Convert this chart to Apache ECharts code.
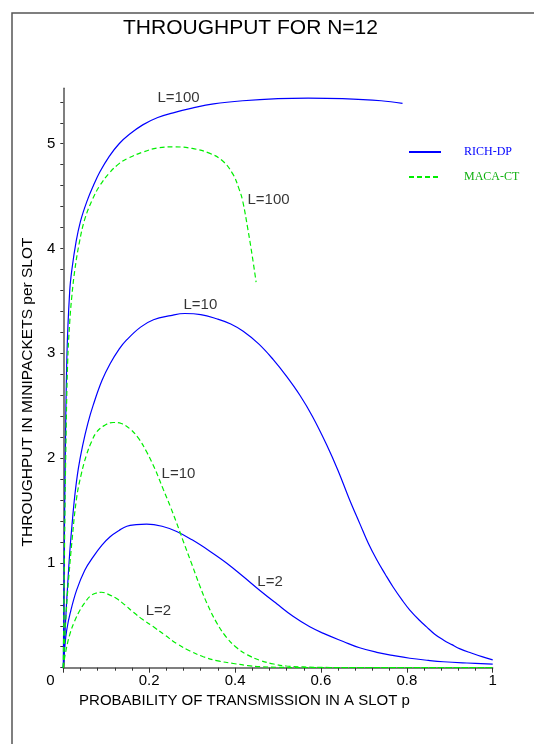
<!DOCTYPE html>
<html>
<head>
<meta charset="utf-8">
<script src="https://cdn.jsdelivr.net/npm/echarts@6/dist/echarts.min.js"></script>
<style>
  html, body { margin: 0; padding: 0; background: #fff; }
  #chart { width: 534px; height: 744px; }
</style>
</head>
<body>
<div id="chart"></div>
<script>
// curves, [p, throughput]
const richL100 = [[0,0],[0.002,1.0],[0.004,1.8],[0.0086,3.0],[0.015,3.6],[0.02,3.8],[0.03,4.07],[0.04,4.26],[0.055,4.45],[0.07,4.6],[0.085,4.73],[0.107,4.88],[0.13,5.0],[0.154,5.09],[0.185,5.18],[0.22,5.25],[0.26,5.3],[0.30,5.34],[0.35,5.38],[0.418,5.41],[0.5,5.43],[0.57,5.435],[0.65,5.43],[0.74,5.41],[0.79,5.385]];
const macaL100 = [[0,0],[0.003,1.2],[0.006,2.1],[0.01,2.9],[0.015,3.3],[0.02,3.55],[0.027,3.8],[0.037,4.05],[0.05,4.28],[0.068,4.47],[0.085,4.6],[0.107,4.72],[0.13,4.81],[0.15,4.86],[0.185,4.92],[0.22,4.96],[0.259,4.97],[0.30,4.955],[0.34,4.91],[0.37,4.84],[0.395,4.71],[0.41,4.56],[0.418,4.45],[0.43,4.18],[0.44,3.93],[0.449,3.68]];
const richL10 = [[0,0],[0.005,0.42],[0.01,0.78],[0.015,1.1],[0.02,1.35],[0.027,1.65],[0.035,1.9],[0.045,2.12],[0.057,2.33],[0.07,2.51],[0.09,2.74],[0.109,2.9],[0.13,3.04],[0.148,3.13],[0.18,3.25],[0.21,3.32],[0.25,3.36],[0.283,3.38],[0.32,3.37],[0.357,3.33],[0.39,3.28],[0.419,3.21],[0.455,3.09],[0.489,2.94],[0.52,2.78],[0.551,2.60],[0.58,2.40],[0.613,2.13],[0.64,1.88],[0.665,1.62],[0.691,1.37],[0.71,1.19],[0.73,1.03],[0.75,0.89],[0.768,0.77],[0.79,0.64],[0.807,0.55],[0.83,0.45],[0.846,0.39],[0.865,0.32],[0.885,0.265],[0.905,0.22],[0.924,0.18],[0.95,0.14],[0.975,0.105],[1.0,0.075]];
const macaL10 = [[0,0],[0.005,0.4],[0.01,0.72],[0.02,1.2],[0.031,1.62],[0.042,1.85],[0.054,2.03],[0.066,2.16],[0.078,2.25],[0.095,2.31],[0.116,2.34],[0.135,2.33],[0.155,2.28],[0.175,2.19],[0.194,2.06],[0.213,1.9],[0.233,1.70],[0.25,1.53],[0.264,1.38],[0.28,1.20],[0.30,0.98],[0.318,0.78],[0.335,0.61],[0.357,0.43],[0.38,0.29],[0.404,0.19],[0.43,0.12],[0.458,0.07],[0.49,0.035],[0.52,0.016],[0.6,0.003],[0.7,0],[1,0]];
const richL2 = [[0,0],[0.004,0.22],[0.008,0.36],[0.016,0.52],[0.031,0.74],[0.05,0.93],[0.07,1.06],[0.09,1.17],[0.109,1.25],[0.13,1.31],[0.148,1.35],[0.17,1.365],[0.194,1.37],[0.23,1.35],[0.264,1.30],[0.30,1.22],[0.342,1.11],[0.38,1.0],[0.419,0.87],[0.46,0.73],[0.497,0.61],[0.535,0.49],[0.574,0.39],[0.61,0.32],[0.652,0.25],[0.69,0.19],[0.73,0.147],[0.77,0.115],[0.807,0.09],[0.85,0.07],[0.885,0.057],[0.94,0.045],[1,0.035]];
const macaL2 = [[0,0],[0.005,0.14],[0.016,0.33],[0.027,0.45],[0.039,0.55],[0.05,0.62],[0.062,0.68],[0.075,0.71],[0.089,0.72],[0.105,0.70],[0.124,0.66],[0.143,0.60],[0.163,0.53],[0.185,0.46],[0.21,0.39],[0.237,0.31],[0.264,0.23],[0.295,0.16],[0.326,0.105],[0.36,0.065],[0.396,0.04],[0.43,0.02],[0.458,0.01],[0.5,0.004],[0.55,0],[1,0]];

// curve annotations: [p, y, text]
const curveNotes = [[0.2205,5.436,'L=100'],[0.430,4.455,'L=100'],[0.281,3.461,'L=10'],[0.230,1.848,'L=10'],[0.453,0.818,'L=2'],[0.193,0.541,'L=2']];

const yLabels = [1,2,3,4,5];
const yTicks = [0,0.2,0.4,0.6,0.8,1,1.2,1.4,1.6,1.8,2,2.2,2.4,2.6,2.8,3,3.2,3.4,3.6,3.8,4,4.2,4.4,4.6,4.8,5,5.2,5.4];

const BLUE = '#0000ff';
const GREEN = '#00ee00';

const chart = echarts.init(document.getElementById('chart'));

function curve(name, data, color, dashed) {
  return {
    name: name,
    type: 'line',
    data: data,
    showSymbol: false,
    symbol: 'none',
    smooth: 0.4,
    lineStyle: { color: color, width: 1.2, type: dashed ? [5, 3] : 'solid' },
    itemStyle: { color: color },
    z: 3
  };
}

chart.setOption({
  animation: false,
  textStyle: { fontFamily: 'Liberation Sans' },
  title: {
    text: 'THROUGHPUT FOR N=12',
    left: 118,
    top: 13,
    textStyle: { fontSize: 21, fontWeight: 'normal', color: '#000', fontFamily: 'Liberation Sans' }
  },
  grid: { left: 63.3, right: 41.3, top: 88.2, bottom: 76.3, containLabel: false },
  legend: {
    orient: 'vertical',
    left: 403,
    top: 141,
    itemWidth: 32,
    itemHeight: 12,
    itemGap: 13,
    itemStyle: { color: 'rgba(0,0,0,0)', borderColor: 'rgba(0,0,0,0)', borderWidth: 0 },
    data: [
      { name: 'RICH-DP', textStyle: { color: BLUE } },
      { name: 'MACA-CT', textStyle: { color: '#10b010' } }
    ],
    textStyle: { fontFamily: 'Liberation Serif', fontSize: 12, padding: [0, 0, 0, 18] }
  },
  xAxis: {
    type: 'value',
    min: 0,
    max: 1,
    interval: 0.2,
    name: 'PROBABILITY OF TRANSMISSION IN A SLOT p',
    nameLocation: 'middle',
    nameGap: 23,
    nameTextStyle: { fontSize: 15, color: '#000', padding: [0, 67, 0, 0] },
    axisLine: { lineStyle: { color: '#555', width: 1.5 } },
    axisTick: { length: 5, lineStyle: { color: '#333' } },
    minorTick: { show: true, splitNumber: 5, length: 3, lineStyle: { color: '#333' } },
    axisLabel: {
      fontSize: 15,
      color: '#000',
      margin: 6,
      formatter: function (v) { return v === 0 ? '{z|0}' : String(+v.toFixed(1)); },
      rich: { z: { fontSize: 15, color: '#000', padding: [0, 26, 0, 0] } }
    },
    splitLine: { show: false }
  },
  yAxis: {
    type: 'value',
    min: 0,
    max: 5.53,
    name: 'THROUGHPUT IN MINIPACKETS per SLOT',
    nameLocation: 'middle',
    nameGap: 24,
    nameTextStyle: { fontSize: 15.5, color: '#000', padding: [0, 28, 0, 0] },
    axisLine: { show: true, lineStyle: { color: '#555', width: 1.5 } },
    axisTick: { show: true, length: 3, customValues: yTicks, lineStyle: { color: '#333' } },
    axisLabel: { fontSize: 15, color: '#000', margin: 8, customValues: yLabels },
    splitLine: { show: false }
  },
  graphic: [{
    type: 'polyline',
    shape: { points: [[12, 744], [12, 13], [534, 13]] },
    style: { stroke: '#555', lineWidth: 1.5, fill: null }
  }],
  series: [
    curve('RICH-DP', richL100, BLUE, false),
    curve('RICH-DP', richL10, BLUE, false),
    curve('RICH-DP', richL2, BLUE, false),
    curve('MACA-CT', macaL100, GREEN, true),
    curve('MACA-CT', macaL10, GREEN, true),
    curve('MACA-CT', macaL2, GREEN, true),
    {
      name: 'notes',
      type: 'scatter',
      symbolSize: 1,
      itemStyle: { color: 'transparent' },
      data: curveNotes.map(function (n) { return { value: [n[0], n[1]], name: n[2] }; }),
      label: {
        show: true,
        position: [0, 0],
        align: 'left',
        verticalAlign: 'middle',
        formatter: function (p) { return p.name; },
        fontSize: 15,
        color: '#000'
      },
      z: 4
    }
  ]
});
</script>
</body>
</html>
